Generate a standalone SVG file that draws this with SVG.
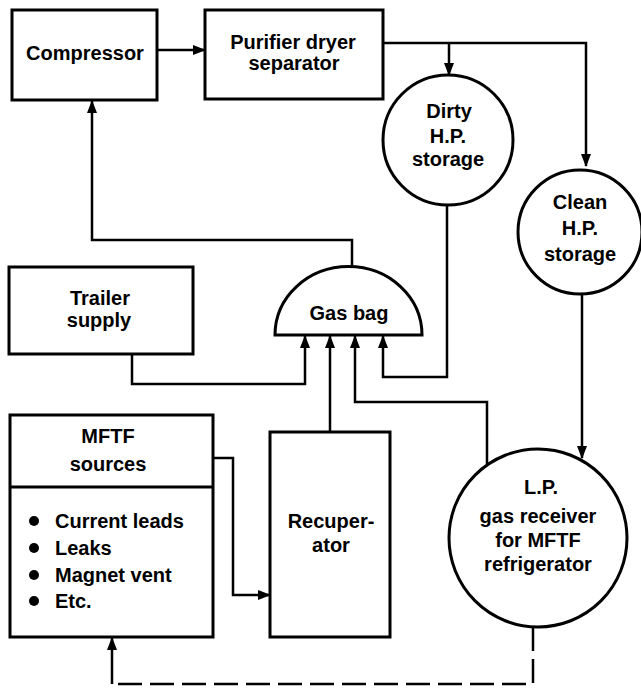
<svg xmlns="http://www.w3.org/2000/svg" width="641" height="689" viewBox="0 0 641 689">
<style>
.box{fill:#fff;stroke:#000;stroke-width:3}
.t{font-family:"Liberation Sans",Arial,sans-serif;font-weight:bold;font-size:20px;fill:#000;text-anchor:middle}
.tl{font-family:"Liberation Sans",Arial,sans-serif;font-weight:bold;font-size:20px;fill:#000;text-anchor:start}
.c{fill:none;stroke:#000;stroke-width:2.5}
.d{fill:none;stroke:#000;stroke-width:2.5;stroke-dasharray:24 8}
</style>
<defs>
<marker id="ah" markerUnits="userSpaceOnUse" markerWidth="13" markerHeight="10" refX="12" refY="5" orient="auto">
<path d="M0,0 L13,5 L0,10 z" fill="#000"/>
</marker>
</defs>
<rect width="641" height="689" fill="#fff"/>
<g id="connectors">
<path class="c" d="M157,50 H205" marker-end="url(#ah)"/>
<path class="c" d="M383,43 H586 V166" marker-end="url(#ah)"/>
<path class="c" d="M449,43 V75" marker-end="url(#ah)"/>
<path class="c" d="M352,268 V240 H92 V101" marker-end="url(#ah)"/>
<path class="c" d="M132,354 V384 H305 V336" marker-end="url(#ah)"/>
<path class="c" d="M330,432 V336" marker-end="url(#ah)"/>
<path class="c" d="M487,464 V402 H355 V336" marker-end="url(#ah)"/>
<path class="c" d="M447,205 V377 H383 V336" marker-end="url(#ah)"/>
<path class="c" d="M582,294 V458" marker-end="url(#ah)"/>
<path class="c" d="M213,458 H233 V595 H270" marker-end="url(#ah)"/>
<path class="d" d="M533,627 V684 H112"/>
<path class="c" d="M112,684 V638" marker-end="url(#ah)"/>
</g>
<g id="compressor">
<rect class="box" x="12" y="10" width="145" height="90"/>
<text class="t" x="85" y="60">Compressor</text>
</g>
<g id="purifier">
<rect class="box" x="205" y="10" width="178" height="89"/>
<text class="t" x="293" y="49">Purifier dryer</text>
<text class="t" x="294" y="70">separator</text>
</g>
<g id="dirty">
<circle class="box" cx="448" cy="140" r="65"/>
<text class="t" x="449" y="118">Dirty</text>
<text class="t" x="448" y="143">H.P.</text>
<text class="t" x="448" y="166">storage</text>
</g>
<g id="clean">
<circle class="box" cx="580" cy="232" r="62"/>
<text class="t" x="580" y="209">Clean</text>
<text class="t" x="580" y="235">H.P.</text>
<text class="t" x="580" y="261">storage</text>
</g>
<g id="trailer">
<rect class="box" x="9" y="267" width="184" height="87"/>
<text class="t" x="100" y="305">Trailer</text>
<text class="t" x="99" y="327">supply</text>
</g>
<g id="gasbag">
<path class="box" d="M275,335 A73,68 0 0 1 422,335 Z"/>
<text class="t" x="349" y="320">Gas bag</text>
</g>
<g id="mftf">
<rect class="box" x="10" y="415" width="203" height="222"/>
<line x1="10" y1="487" x2="213" y2="487" stroke="#000" stroke-width="3"/>
<text class="t" x="108" y="443">MFTF</text>
<text class="t" x="108" y="471">sources</text>
<circle cx="34" cy="521" r="5"/>
<circle cx="34" cy="548" r="5"/>
<circle cx="34" cy="575" r="5"/>
<circle cx="34" cy="601" r="5"/>
<text class="tl" x="55" y="528">Current leads</text>
<text class="tl" x="55" y="555">Leaks</text>
<text class="tl" x="55" y="582">Magnet vent</text>
<text class="tl" x="55" y="608">Etc.</text>
</g>
<g id="recuperator">
<rect class="box" x="270" y="432" width="120" height="205"/>
<text class="t" x="331" y="528">Recuper-</text>
<text class="t" x="331" y="552">ator</text>
</g>
<g id="lp">
<circle class="box" cx="538" cy="538" r="89"/>
<text class="t" x="541" y="494">L.P.</text>
<text class="t" x="538" y="523">gas receiver</text>
<text class="t" x="538" y="547">for MFTF</text>
<text class="t" x="538" y="571">refrigerator</text>
</g>
</svg>
